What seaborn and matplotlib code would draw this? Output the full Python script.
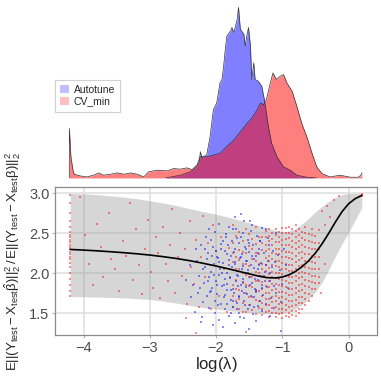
import numpy as np
import pandas as pd
import matplotlib
matplotlib.use("Agg")
import matplotlib.pyplot as plt
from matplotlib.patches import Patch
import seaborn as sns

# ---- density of log(lambda) (top panel) ----
cv_x = [-4.215, -4.213, -4.19, -4.16, -4.14, -4.05, -3.95, -3.85, -3.77, -3.70, -3.59, -3.49, -3.39, -3.29,
        -3.19, -3.09, -3.02, -2.89, -2.74, -2.64, -2.54, -2.44, -2.36, -2.29, -2.24, -2.14, -2.04, -1.94,
        -1.84, -1.73, -1.63, -1.53, -1.46, -1.38, -1.33, -1.28, -1.24, -1.18, -1.14, -1.09, -1.03, -0.98,
        -0.93, -0.85, -0.78, -0.70, -0.63, -0.55, -0.48, -0.40, -0.28, -0.13, 0.03, 0.15, 0.19, 0.202]
cv_d = [0, 0.49, 0.21, 0.08, 0.037, 0.02, 0.01, 0.027, 0.05, 0.027, 0.037, 0.05, 0.037, 0.05,
        0.037, 0.01, 0.06, 0.077, 0.07, 0.093, 0.087, 0.10, 0.083, 0.127, 0.21, 0.21, 0.227, 0.243,
        0.31, 0.377, 0.46, 0.543, 0.593, 0.677, 0.743, 0.727, 0.777, 0.943, 1.043, 0.977, 1.01, 1.027,
        0.943, 0.86, 0.71, 0.53, 0.41, 0.243, 0.11, 0.043, 0.01, 0.027, 0.007, 0.007, 0.03, 0.053]
at_x = [-2.76, -2.54, -2.39, -2.29, -2.25, -2.237, -2.21, -2.19, -2.14, -2.09, -2.04, -1.99, -1.94, -1.91,
        -1.885, -1.86, -1.835, -1.78, -1.76, -1.73, -1.68, -1.66, -1.633, -1.58, -1.56, -1.535, -1.51,
        -1.48, -1.46, -1.43, -1.41, -1.36, -1.31, -1.27, -1.21, -1.16, -1.08, -0.98, -0.88, -0.78, -0.63, -0.48]
at_d = [0, 0.027, 0.06, 0.11, 0.16, 0.26, 0.20, 0.21, 0.23, 0.407, 0.677, 0.743, 0.943, 0.977,
        1.11, 1.277, 1.41, 1.46, 1.493, 1.443, 1.577, 1.693, 1.477, 1.427, 1.31, 1.41, 1.493,
        1.31, 0.977, 1.143, 0.977, 0.96, 0.91, 0.777, 0.51, 0.343, 0.21, 0.11, 0.077, 0.027, 0.007, 0]

# ---- smooth fit and band (bottom panel) ----
fit_x = [-4.2, -4.0, -3.8, -3.6, -3.4, -3.2, -3.0, -2.8, -2.6, -2.4, -2.2, -2.0, -1.8, -1.6, -1.4, -1.3,
         -1.2, -1.1, -1.0, -0.9, -0.8, -0.7, -0.6, -0.5, -0.4, -0.3, -0.2, -0.1, 0.0, 0.1, 0.2]
fit_mean = [2.300, 2.292, 2.283, 2.272, 2.260, 2.246, 2.230, 2.210, 2.187, 2.160, 2.128, 2.093, 2.055,
            2.015, 1.975, 1.957, 1.946, 1.944, 1.955, 1.982, 2.025, 2.085, 2.160, 2.255, 2.370, 2.500,
            2.640, 2.770, 2.870, 2.935, 2.975]
fit_upper = [3.00, 2.995, 2.985, 2.97, 2.955, 2.935, 2.91, 2.88, 2.85, 2.81, 2.775, 2.74, 2.70, 2.655,
             2.61, 2.585, 2.56, 2.54, 2.525, 2.53, 2.56, 2.62, 2.69, 2.77, 2.84, 2.90, 2.95, 2.985,
             3.0, 3.0, 3.0]
fit_lower = [1.71, 1.708, 1.705, 1.70, 1.695, 1.685, 1.675, 1.655, 1.63, 1.60, 1.575, 1.555, 1.535,
             1.52, 1.505, 1.50, 1.497, 1.497, 1.50, 1.52, 1.56, 1.61, 1.68, 1.77, 1.89, 2.04, 2.21,
             2.37, 2.51, 2.67, 2.82]

# ---- Autotune points ----
auto_x = [-1.95, -1.72, -1.58, -1.45, -1.80, -1.30, -1.62, -2.10,
          -2.15, -2.02, -1.90, -1.85, -1.75, -1.68, -1.60, -1.52, -1.47, -1.38, -1.33, -1.22, -1.10, -1.25,
          -2.30, -2.22, -2.12, -2.05, -1.98, -1.93, -1.87, -1.82, -1.77, -1.71, -1.66, -1.61, -1.56, -1.50,
          -1.44, -1.40, -1.35, -1.28, -1.20, -1.14, -1.06, -0.98,
          -2.40, -2.28, -2.20, -2.14, -2.08, -2.03, -1.97, -1.94, -1.89, -1.84, -1.80, -1.76, -1.72, -1.69,
          -1.64, -1.60, -1.55, -1.51, -1.47, -1.42, -1.37, -1.32, -1.26, -1.21, -1.16, -1.11, -1.03, -0.95,
          -2.45, -2.35, -2.25, -2.18, -2.11, -2.06, -2.00, -1.96, -1.91, -1.87, -1.83, -1.79, -1.74, -1.70,
          -1.67, -1.63, -1.59, -1.54, -1.49, -1.45, -1.41, -1.36, -1.31, -1.27, -1.23, -1.18, -1.12, -1.07,
          -1.00, -0.92,
          -2.38, -2.27, -2.19, -2.13, -2.07, -2.02, -1.98, -1.93, -1.88, -1.84, -1.78, -1.73, -1.69, -1.65,
          -1.61, -1.57, -1.53, -1.48, -1.43, -1.39, -1.34, -1.29, -1.24, -1.17, -1.09, -1.02,
          -2.32, -2.21, -2.10, -2.01, -1.95, -1.86, -1.81, -1.74, -1.66, -1.58, -1.52, -1.44, -1.37, -1.30,
          -1.19, -1.13,
          -2.05, -1.90, -1.71, -1.50, -2.22, -1.02,
          -2.00, -1.95, -1.91, -1.88, -1.86, -1.83, -1.81, -1.79, -1.77, -1.75, -1.73, -1.71, -1.69, -1.67,
          -1.65, -1.63, -1.61, -1.59, -1.57, -1.55, -1.53, -1.51, -1.49, -1.47, -1.45, -1.43, -1.41, -1.39,
          -1.37, -1.35, -1.33, -1.31, -2.16, -2.12, -2.09, -2.06, -2.03, -1.99, -1.92, -1.84, -1.76, -1.68,
          -1.62, -1.56, -1.50, -1.42, -1.34, -1.26, -1.24, -1.18, -2.24, -2.17, -1.97, -1.85, -1.70, -1.64,
          -1.48, -1.40, -2.08, -1.78]
auto_y = [2.62, 2.70, 2.66, 2.61, 2.58, 2.57, 2.74, 2.55,
          2.45, 2.52, 2.41, 2.49, 2.55, 2.44, 2.50, 2.42, 2.53, 2.47, 2.40, 2.44, 2.50, 2.56,
          2.30, 2.36, 2.25, 2.33, 2.21, 2.37, 2.28, 2.35, 2.22, 2.31, 2.38, 2.24, 2.33, 2.27,
          2.36, 2.22, 2.30, 2.25, 2.35, 2.28, 2.23, 2.31,
          2.10, 2.15, 2.05, 2.18, 2.02, 2.12, 2.19, 2.06, 2.13, 2.01, 2.17, 2.08, 2.14, 2.03,
          2.19, 2.09, 2.15, 2.04, 2.11, 2.18, 2.06, 2.13, 2.02, 2.16, 2.08, 2.14, 2.04, 2.10,
          1.92, 1.85, 1.97, 1.88, 1.95, 1.82, 1.91, 1.98, 1.84, 1.93, 1.87, 1.96, 1.81, 1.90,
          1.97, 1.85, 1.93, 1.83, 1.95, 1.88, 1.81, 1.92, 1.86, 1.97, 1.83, 1.90, 1.84, 1.94,
          1.87, 1.82,
          1.70, 1.76, 1.64, 1.72, 1.78, 1.66, 1.74, 1.62, 1.71, 1.79, 1.67, 1.75, 1.63, 1.72,
          1.78, 1.66, 1.74, 1.61, 1.70, 1.77, 1.65, 1.73, 1.62, 1.69, 1.76, 1.64,
          1.52, 1.46, 1.57, 1.50, 1.42, 1.55, 1.47, 1.58, 1.51, 1.44, 1.56, 1.49, 1.59, 1.53,
          1.47, 1.57,
          1.36, 1.33, 1.38, 1.31, 1.39, 1.28,
          2.28, 2.14, 2.00, 1.86, 1.73, 2.24, 2.10, 1.94, 1.79, 1.66, 2.27, 2.12, 1.98, 1.84,
          1.70, 2.21, 2.05, 1.89, 1.76, 2.30, 2.16, 2.00, 1.86, 1.72, 2.22, 2.07, 1.93, 1.79,
          2.26, 2.11, 1.97, 1.82, 2.08, 1.91, 1.77, 2.22, 1.98, 1.85, 2.30, 1.62, 2.40, 1.55,
          2.45, 1.60, 2.38, 1.58, 2.40, 1.90, 2.10, 2.00, 1.82, 2.30, 1.60, 2.45, 2.55, 1.45,
          2.65, 1.40, 2.42, 1.50]

# ---- CV_min points: grid columns, the lambda_min column and scattered ones ----
cv_col_x = [-1.75, -1.70, -1.65, -1.60, -1.55, -1.50, -1.45, -1.40, -1.35, -1.30, -1.25, -1.20, -1.15,
            -1.10, -1.05, -1.00, -0.95, -0.90, -0.85, -0.80, -0.75, -0.70, -0.65, -0.60, -0.55, -0.50, -0.45]
cv_col_y = [[1.58, 1.86, 2.14, 2.38, 2.61, 1.72, 2.26],
            [1.66, 1.92, 2.21, 2.47, 1.80, 2.05],
            [1.55, 1.79, 2.05, 2.29, 2.52, 1.68, 2.17],
            [1.63, 1.88, 2.12, 2.40, 1.52, 2.00, 2.27],
            [1.52, 1.75, 1.98, 2.26, 2.56, 1.86, 2.12],
            [1.60, 1.84, 2.09, 2.34, 2.49, 1.70, 1.96],
            [1.54, 1.71, 1.95, 2.18, 2.43, 1.83, 2.30],
            [1.49, 1.67, 1.90, 2.15, 2.37, 2.58, 1.78, 2.02, 2.26],
            [1.57, 1.78, 2.01, 2.24, 2.45, 1.66, 1.90, 2.12],
            [1.48, 1.63, 1.80, 1.97, 2.12, 2.29, 2.46, 1.55, 1.72, 1.89, 2.05, 2.38],
            [1.52, 1.68, 1.84, 2.03, 2.19, 2.36, 2.53, 1.60, 1.76, 1.94, 2.11, 2.28, 2.45],
            [1.46, 1.60, 1.75, 1.91, 2.07, 2.22, 2.40, 2.55, 1.53, 1.68, 1.83, 1.99, 2.15, 2.31, 2.47],
            [1.50, 1.64, 1.79, 1.95, 2.10, 2.26, 2.43, 1.57, 1.71, 1.87, 2.02, 2.18, 2.35, 2.51],
            [1.45, 1.58, 1.72, 1.87, 2.01, 2.16, 2.31, 2.48, 1.51, 1.65, 1.80, 1.94, 2.09, 2.24, 2.39, 2.55],
            [1.49, 1.62, 1.77, 1.93, 2.08, 2.24, 2.39, 2.52, 1.55, 1.69, 1.85, 2.00, 2.16, 2.31, 2.46],
            [1.44, 1.56, 1.70, 1.84, 1.99, 2.13, 2.28, 2.42, 2.57, 1.50, 1.63, 1.77, 1.92, 2.06, 2.21, 2.35, 2.50],
            [1.47, 1.61, 1.75, 1.90, 2.05, 2.20, 2.35, 2.50, 1.54, 1.68, 1.83, 1.97, 2.12, 2.27, 2.43, 2.57],
            [1.51, 1.65, 1.80, 1.95, 2.11, 2.27, 2.44, 2.58, 1.46, 1.58, 1.73, 1.88, 2.03, 2.19, 2.35, 2.51],
            [1.48, 1.59, 1.73, 1.88, 2.03, 2.18, 2.33, 2.49, 1.53, 1.66, 1.80, 1.95, 2.10, 2.26, 2.41, 2.56],
            [1.53, 1.67, 1.82, 1.97, 2.14, 2.30, 2.46, 2.60, 1.47, 1.60, 1.75, 1.90, 2.06, 2.22, 2.38, 2.53],
            [1.50, 1.63, 1.78, 1.94, 2.09, 2.25, 2.41, 2.55, 1.56, 1.70, 1.86, 2.01, 2.17, 2.33, 2.48],
            [1.56, 1.71, 1.87, 2.02, 2.19, 2.36, 2.52, 1.63, 1.79, 1.95, 2.11, 2.27, 2.44],
            [1.60, 1.76, 1.92, 2.08, 2.24, 2.42, 2.58, 1.68, 1.84, 2.00, 2.16, 2.33, 2.50],
            [1.66, 1.83, 1.99, 2.15, 2.32, 2.49, 1.74, 1.91, 2.07, 2.24, 2.41],
            [1.72, 1.89, 2.05, 2.22, 2.39, 2.56, 1.80, 1.97, 2.14, 2.31, 2.48],
            [1.80, 1.97, 2.13, 2.30, 2.47, 1.88, 2.05, 2.21, 2.38],
            [1.88, 2.05, 2.21, 2.38, 2.54, 1.96, 2.30]]
cv_min_col_y = [1.72, 1.78, 1.85, 1.93, 2.01, 2.08, 2.13, 2.18, 2.21, 2.24, 2.27, 2.30, 2.33, 2.36,
                2.39, 2.42, 2.45, 2.48, 2.52, 2.58, 2.66, 2.76, 2.88, 2.98]
cv_sc_x = [-4.05, -3.98, -3.92, -3.85, -3.80, -3.74, -3.70, -3.62, -3.58, -3.52, -3.47, -3.41, -3.36,
           -3.30, -3.25, -3.21, -3.16, -3.12, -3.07, -3.02, -2.98, -2.95, -2.91, -2.87, -2.84, -2.80,
           -2.76, -2.73, -2.69, -2.66, -2.62, -2.58, -2.55, -2.51, -2.47, -2.44, -2.40, -2.37, -2.33,
           -2.30, -2.26, -2.23, -2.19, -2.16, -2.12, -2.08, -2.04, -2.00, -1.96, -1.92, -1.88, -1.84,
           -1.80, -2.30, -1.55, -2.45, -0.40, -0.36, -0.32, -0.28, -0.22, -0.35, -0.42, -0.15, 0.20, 0.20, 0.20]
cv_sc_y = [2.95, 2.48, 2.12, 1.85, 2.62, 2.33, 1.95, 2.75, 2.18, 2.05, 1.78, 2.41, 2.22,
           2.88, 1.92, 2.55, 2.10, 1.74, 2.30, 2.67, 2.02, 1.82, 2.45, 2.25, 1.69, 2.58,
           2.12, 1.90, 2.36, 2.80, 1.76, 2.20, 2.50, 1.97, 2.31, 1.62, 2.65, 2.08, 1.87,
           2.42, 1.58, 2.20, 2.72, 1.95, 2.38, 1.55, 2.60, 2.28, 1.72, 2.46, 2.05, 1.52,
           2.32, 1.25, 1.27, 1.44, 2.78, 2.60, 2.84, 2.70, 2.92, 2.12, 1.75, 2.97, 2.98, 2.99, 2.97]
lambda_min = -4.2

# build tables
cv_px, cv_py = [], []
for cx, ys in zip(cv_col_x, cv_col_y):
    cv_px += [cx] * len(ys)
    cv_py += ys
cv_px += [lambda_min] * len(cv_min_col_y) + cv_sc_x
cv_py += cv_min_col_y + cv_sc_y
pts_cv = pd.DataFrame({'loglam': cv_px, 'ratio': cv_py})
pts_auto = pd.DataFrame({'loglam': auto_x, 'ratio': auto_y})

sns.set_style('white')
plt.rcParams['font.family'] = ['Liberation Sans', 'DejaVu Sans']
plt.rcParams['mathtext.fontset'] = 'custom'
plt.rcParams['mathtext.rm'] = 'Liberation Sans'
plt.rcParams['mathtext.it'] = 'Liberation Sans'
plt.rcParams['mathtext.bf'] = 'Liberation Sans:bold'

fig = plt.figure(figsize=(3.81, 3.81), dpi=100)
ax_top = fig.add_axes([0.1444, 0.533, 0.8451, 0.46])
ax = fig.add_axes([0.1444, 0.1207, 0.8451, 0.3883])
xlim = (-4.43, 0.43)

# top: densities
ax_top.fill_between(at_x, at_d, color='blue', alpha=0.5, lw=0)
sns.lineplot(x=at_x, y=at_d, ax=ax_top, color='#333333', lw=0.5, estimator=None, sort=False)
ax_top.fill_between(cv_x, cv_d, color='red', alpha=0.5, lw=0)
sns.lineplot(x=cv_x, y=cv_d, ax=ax_top, color='#333333', lw=0.5, estimator=None, sort=False)
ax_top.set_xlim(xlim)
ax_top.set_ylim(0, 1.74)
ax_top.axis('off')
handles = [Patch(facecolor='blue', alpha=0.25, edgecolor='none'),
           Patch(facecolor='red', alpha=0.25, edgecolor='none')]
leg = ax_top.legend(handles, ['Autotune', 'CV_min'], loc='upper left', bbox_to_anchor=(0.0, 0.56),
                    borderaxespad=0, fontsize=7.5, handlelength=0.8, handleheight=0.8,
                    handletextpad=0.5, labelspacing=0.15, borderpad=0.5, fancybox=False, framealpha=1)
leg.get_frame().set_edgecolor('#d0d0d0')
leg.get_frame().set_linewidth(0.8)

# bottom: band, points, smooth
ax.fill_between(fit_x, fit_lower, fit_upper, color='#999999', alpha=0.4, lw=0, zorder=1)
sns.scatterplot(data=pts_cv, x='loglam', y='ratio', ax=ax, color='red', marker='s', s=4,
                alpha=0.45, linewidth=0, zorder=2)
sns.scatterplot(data=pts_auto, x='loglam', y='ratio', ax=ax, color='blue', marker='s', s=4,
                alpha=0.45, linewidth=0, zorder=3)
sns.lineplot(x=fit_x, y=fit_mean, ax=ax, color='black', lw=1.2, estimator=None, zorder=4)

ax.set_xlim(xlim)
ax.set_ylim(1.23, 3.08)
ax.set_xticks([-4, -3, -2, -1, 0])
ax.set_yticks([1.5, 2.0, 2.5, 3.0])
ax.set_yticklabels(['1.5', '2.0', '2.5', '3.0'])
ax.grid(True, color='#dedede', lw=1.1)
ax.set_axisbelow(True)
for s in ax.spines.values():
    s.set_color('#8a8a8a')
    s.set_linewidth(0.9)
ax.tick_params(axis='both', labelsize=10.5, labelcolor='#4d4d4d', color='#b3b3b3',
               length=2.5, width=0.8, pad=1.5, left=True, bottom=True)
ax.set_xlabel(r'log($\lambda$)', fontsize=12, labelpad=0)
ax.set_ylabel(r'$\mathrm{E||(Y_{test}-X_{test}\hat{\beta})||_2^2\,/\,E||(Y_{test}-X_{test}\beta)||_2^2}$',
              fontsize=9.5)
ax.yaxis.set_label_coords(-0.1, 0.5)

fig.savefig('out.png', dpi=100)
